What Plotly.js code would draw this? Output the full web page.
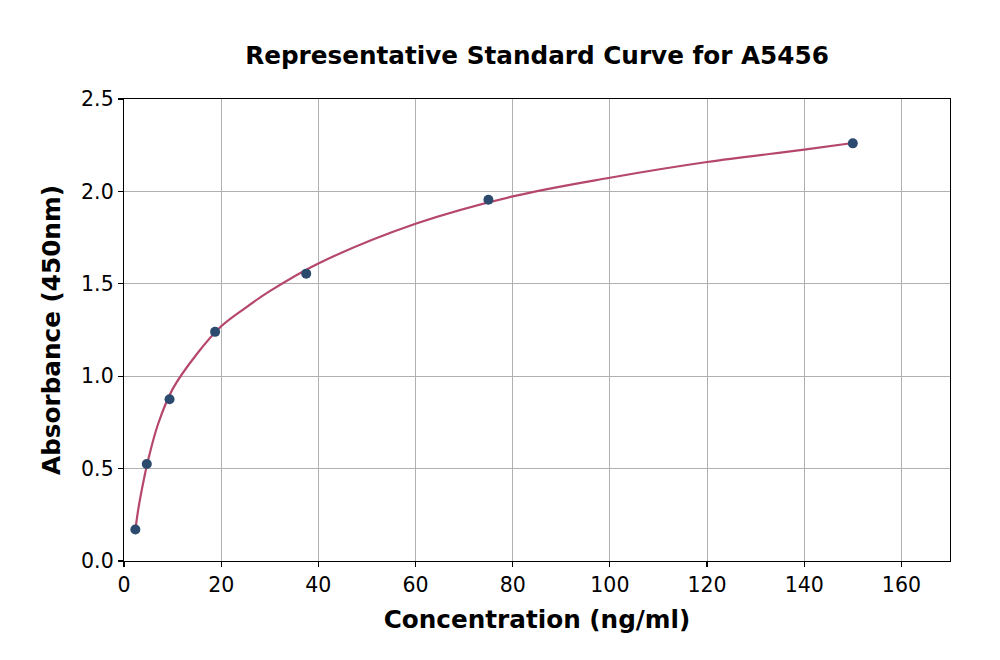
<!DOCTYPE html>
<html>
<head>
<meta charset="utf-8">
<script src="https://cdn.plot.ly/plotly-3.0.1.min.js"></script>
<style>
  body { margin: 0; background: #fff; }
  #plot { width: 1000px; height: 660px; }
</style>
</head>
<body>
<div id="plot"></div>
<script>
// standard points
const concentration = [2.34, 4.69, 9.375, 18.75, 37.5, 75, 150];
const absorbance = [0.17, 0.525, 0.875, 1.24, 1.555, 1.955, 2.26];

// fitted curve
const curveX = [2.34, 3, 4, 5, 7, 10, 15, 20, 25, 30, 40, 60, 80, 100, 120, 140, 150];
const curveY = [0.17, 0.29, 0.43, 0.55, 0.74, 0.93, 1.12, 1.27, 1.37, 1.46, 1.61, 1.825, 1.973, 2.074, 2.159, 2.226, 2.262];

const xTicks = [0, 20, 40, 60, 80, 100, 120, 140, 160];
const yTicks = [0.0, 0.5, 1.0, 1.5, 2.0, 2.5];

let plotDiv = document.getElementById('plot');

let traces = [
  {
    x: curveX,
    y: curveY,
    mode: 'lines',
    line: {color: '#b5476b', width: 2.2, shape: 'spline'},
    hoverinfo: 'skip'
  },
  {
    x: concentration,
    y: absorbance,
    mode: 'markers',
    marker: {color: '#2b4a6e', size: 10}
  }
];

const axisCommon = {
  showline: true,
  linecolor: '#000',
  linewidth: 1.2,
  mirror: true,
  ticks: 'outside',
  ticklen: 5,
  tickwidth: 1.2,
  tickcolor: '#000',
  showgrid: true,
  gridcolor: '#b0b0b0',
  gridwidth: 1,
  zeroline: false,
  tickfont: {family: 'DejaVu Sans', size: 20.5, color: '#000'}
};

let layout = {
  width: 1000,
  height: 660,
  showlegend: false,
  paper_bgcolor: '#fff',
  plot_bgcolor: '#fff',
  margin: {l: 124, r: 50, t: 99, b: 99},
  title: {
    text: '<b>Representative Standard Curve for A5456</b>',
    font: {family: 'DejaVu Sans', size: 24.7, color: '#000'},
    x: 0.537, xanchor: 'center',
    y: 1 - 55 / 660, yanchor: 'middle'
  },
  xaxis: Object.assign({}, axisCommon, {
    range: [0, 170],
    tickvals: xTicks,
    ticktext: xTicks.map(String),
    title: {text: '<b>Concentration (ng/ml)</b>', font: {family: 'DejaVu Sans', size: 24.7, color: '#000'}, standoff: 15}
  }),
  yaxis: Object.assign({}, axisCommon, {
    range: [0, 2.5],
    tickvals: yTicks,
    ticktext: yTicks.map(v => v.toFixed(1)),
    title: {text: '<b>Absorbance (450nm)</b>', font: {family: 'DejaVu Sans', size: 24.7, color: '#000'}, standoff: 13}
  })
};

Plotly.newPlot(plotDiv, traces, layout, {displayModeBar: false, staticPlot: true});
</script>
</body>
</html>
